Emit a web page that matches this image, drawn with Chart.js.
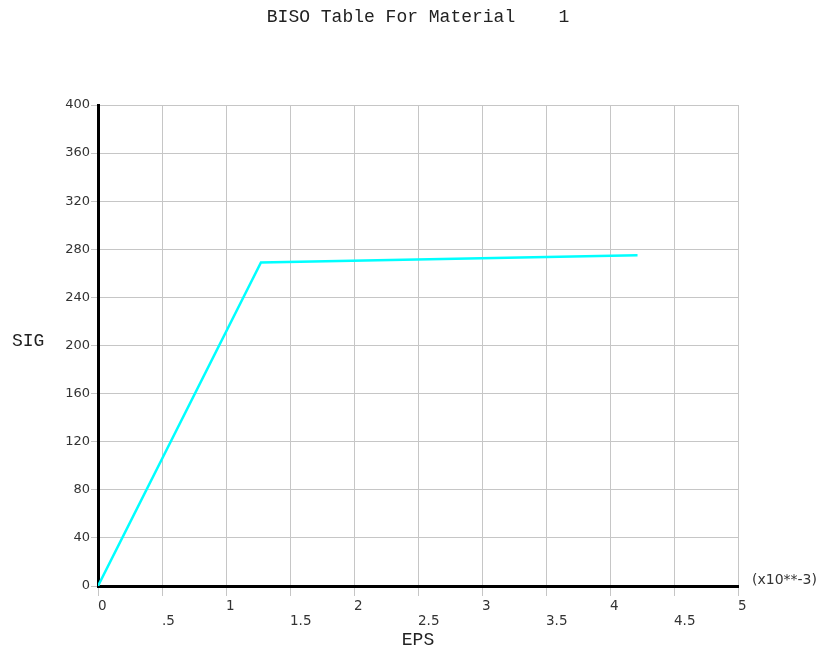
<!DOCTYPE html>
<html>
<head>
<meta charset="utf-8">
<title>BISO Table For Material 1</title>
<script src="https://cdn.jsdelivr.net/npm/chart.js@4/dist/chart.umd.min.js"></script>
<style>
    html, body { margin: 0; padding: 0; background: #fff; }
    #wrap { width: 823px; height: 653px; position: relative; }
</style>
</head>
<body>
<div id="wrap"><canvas id="biso"></canvas></div>
<script>
// BISO curve points (strain in 1e-3, stress)
const epsValues = [0, 1.273, 4.215];
const sigValues = [0, 269, 275];

// axis ranges
const xMin = 0, xMax = 5, xStep = 0.5;
const yMin = 0, yMax = 400, yStep = 40;

const titleText = 'BISO Table For Material    1';
const xTitle = 'EPS';
const yTitle = 'SIG';
const xMultiplier = '(x10**-3)';

const monoFont = 'Liberation Mono';
const tickFont = 'DejaVu Sans';
const gridColor = '#c6c6c6';

// labels not drawn by Chart.js itself: SIG on the left and the multiplier
const extraLabels = {
    id: 'extraLabels',
    afterDraw(chart) {
        const { ctx, chartArea } = chart;
        ctx.save();
        ctx.fillStyle = '#222';
        ctx.textBaseline = 'middle';
        ctx.textAlign = 'left';
        ctx.font = '18px "' + monoFont + '"';
        ctx.fillText(yTitle, 12, 341);
        ctx.font = '14px "' + tickFont + '"';
        ctx.fillStyle = '#333';
        ctx.fillText(xMultiplier, chartArea.right + 14, chartArea.bottom - 6);
        ctx.restore();
    },
};

const points = epsValues.map((x, i) => ({ x, y: sigValues[i] }));

new Chart(document.getElementById('biso'), {
    type: 'line',
    data: {
        datasets: [{
            data: points,
            borderColor: '#00ffff',
            borderWidth: 2.5,
            pointRadius: 0,
            fill: false,
            tension: 0,
        }],
    },
    options: {
        responsive: true,
        maintainAspectRatio: false,
        animation: false,
        layout: { padding: { left: 0, right: 85, top: 0, bottom: 0 } },
        plugins: {
            legend: { display: false },
            tooltip: { enabled: false },
            title: {
                display: true,
                text: titleText,
                fullSize: false,
                color: '#222',
                font: { family: monoFont, size: 18, weight: 'normal', lineHeight: 1.2 },
                padding: { top: 6, bottom: 77.4 },
            },
        },
        scales: {
            x: {
                type: 'linear',
                min: xMin,
                max: xMax,
                afterFit(scale) { scale.height = 67; },
                ticks: {
                    stepSize: xStep,
                    align: 'start',
                    padding: 3,
                    color: '#333',
                    font: { family: tickFont, size: 13.5, lineHeight: 1.12 },
                    maxRotation: 0,
                    autoSkip: false,
                    callback(value) {
                        const v = Math.round(value * 10) / 10;
                        if (Number.isInteger(v)) return String(v);
                        // half steps sit one row lower, written like ".5"
                        const s = v < 1 ? String(v).replace(/^0/, '') : String(v);
                        return ['', s];
                    },
                },
                grid: { color: gridColor, lineWidth: 1, tickLength: 10, tickColor: gridColor },
                border: { color: '#000', width: 3 },
                title: {
                    display: true,
                    text: xTitle,
                    color: '#222',
                    font: { family: monoFont, size: 18, lineHeight: 1.2 },
                    padding: { top: 0, bottom: 2 },
                },
            },
            y: {
                type: 'linear',
                min: yMin,
                max: yMax,
                afterFit(scale) { scale.width = 98; },
                ticks: {
                    stepSize: yStep,
                    padding: 1,
                    color: '#333',
                    font: { family: tickFont, size: 13 },
                },
                grid: { color: gridColor, lineWidth: 1, tickLength: 7, tickColor: gridColor },
                border: { color: '#000', width: 3 },
            },
        },
    },
    plugins: [extraLabels],
});
</script>
</body>
</html>
